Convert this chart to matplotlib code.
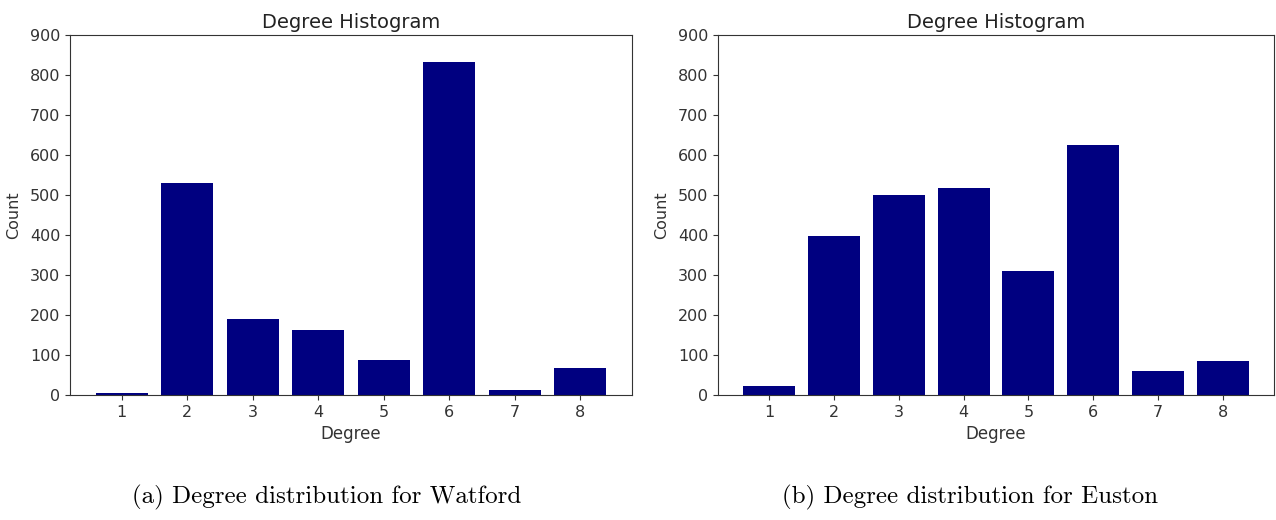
import matplotlib.pyplot as plt

degrees = [1, 2, 3, 4, 5, 6, 7, 8]
watford_counts = [5, 530, 191, 162, 88, 832, 13, 67]
euston_counts = [22, 398, 501, 518, 311, 626, 60, 85]

captions = [
    "(a) Degree distribution for Watford",
    "(b) Degree distribution for Euston",
]
caption_x = [327, 970]

fig = plt.figure(figsize=(12.76, 5.2), dpi=100)

ax_boxes = [
    [70 / 1276, 1 - 395 / 520, 562 / 1276, 360 / 520],
    [718 / 1276, 1 - 395 / 520, 556 / 1276, 360 / 520],
]

for box, counts, caption, cx in zip(ax_boxes, [watford_counts, euston_counts],
                                    captions, caption_x):
    ax = fig.add_axes(box)
    ax.bar(degrees, counts, width=0.8, color="navy")
    ax.set_ylim(0, 900)
    ax.set_yticks(range(0, 901, 100))
    ax.set_xticks(degrees)
    ax.set_title("Degree Histogram", fontsize=14, color="#222222", pad=5)
    ax.set_xlabel("Degree", fontsize=12, color="#333333", labelpad=4)
    ax.set_ylabel("Count", fontsize=11.5, color="#333333", labelpad=6)
    ax.tick_params(labelsize=11.5, colors="#333333")
    for s in ax.spines.values():
        s.set_color("#333333")
    fig.text(cx / 1276, 1 - 497 / 520, caption, ha="center", va="center",
             fontsize=18, family="cmr10")

fig.savefig("out.png", dpi=100)
